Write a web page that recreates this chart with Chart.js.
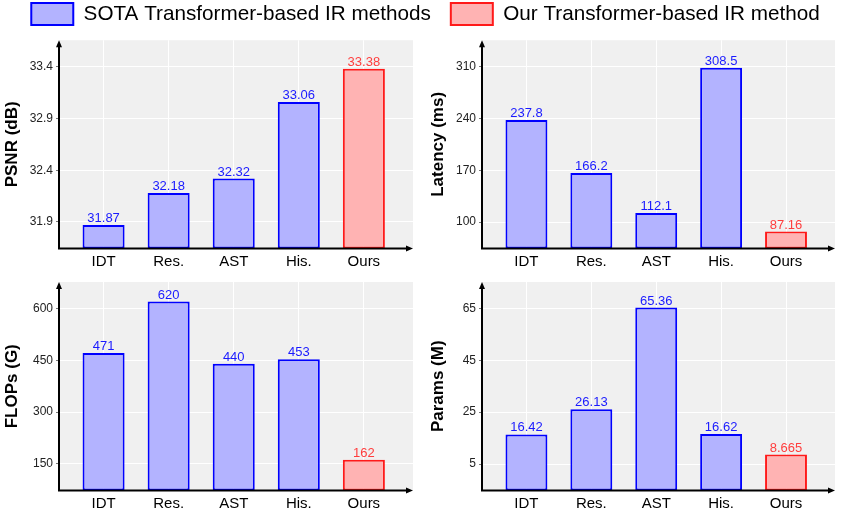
<!DOCTYPE html>
<html>
<head>
<meta charset="utf-8">
<script src="https://cdn.jsdelivr.net/npm/chart.js@4.4.1/dist/chart.umd.min.js"></script>
<style>
  body { margin: 0; background: #fff; }
  #wrap { position: relative; width: 841px; height: 516px; overflow: hidden; }
  canvas { position: absolute; }
</style>
</head>
<body>
<div id="wrap">
  <canvas id="legend" style="left:0;top:-17px" width="841" height="140"></canvas>
  <canvas id="psnrChart" style="left:0;top:30px" width="420" height="240"></canvas>
  <canvas id="latencyChart" style="left:420px;top:30px" width="421" height="240"></canvas>
  <canvas id="flopsChart" style="left:0;top:270px" width="420" height="246"></canvas>
  <canvas id="paramsChart" style="left:420px;top:270px" width="421" height="246"></canvas>
</div>
<script>
// values
const methods = ['IDT', 'Res.', 'AST', 'His.', 'Ours'];
const psnr = [31.87, 32.18, 32.32, 33.06, 33.38];
const latency = [237.8, 166.2, 112.1, 308.5, 87.16];
const flops = [471, 620, 440, 453, 162];
const params = [16.42, 26.13, 65.36, 16.62, 8.665];

const psnrTicks = [31.9, 32.4, 32.9, 33.4];
const latencyTicks = [100, 170, 240, 310];
const flopsTicks = [150, 300, 450, 600];
const paramsTicks = [5, 25, 45, 65];

const psnrRange = [31.644, 33.656];
const latencyRange = [64.2, 345.8];
const flopsRange = [73.3, 676.7];
const paramsRange = [-5.2, 75.2];
const xRange = [-0.685, 4.755];

const legendLabels = ['SOTA Transformer-based IR methods', 'Our Transformer-based IR method'];

const FONT = "'Liberation Sans', Arial, sans-serif";
const blueFill = '#b3b3ff', blueLine = '#0000ff', blueText = '#1a1aff';
const redFill = '#ffb3b3', redLine = '#ff1a1a', redText = '#ff3d3d';

function isOurs(m) { return m === 'Ours'; }

// gray plot background
const plotBg = {
  id: 'plotBg',
  beforeDraw(chart) {
    const { ctx, chartArea: a } = chart;
    ctx.save();
    ctx.fillStyle = '#f0f0f0';
    ctx.fillRect(a.left, a.top, a.right - a.left, a.bottom - a.top);
    ctx.restore();
  }
};

// black axes with arrow heads
const arrows = {
  id: 'arrows',
  afterDatasetsDraw(chart) {
    const { ctx, chartArea: a } = chart;
    ctx.save();
    ctx.strokeStyle = '#000';
    ctx.fillStyle = '#000';
    ctx.lineWidth = 2;
    ctx.beginPath();
    ctx.moveTo(a.left, a.bottom);
    ctx.lineTo(a.left, a.top + 5);
    ctx.moveTo(a.left - 1, a.bottom);
    ctx.lineTo(a.right - 5, a.bottom);
    ctx.stroke();
    ctx.beginPath();
    ctx.moveTo(a.left, a.top);
    ctx.lineTo(a.left - 3, a.top + 7);
    ctx.lineTo(a.left + 3, a.top + 7);
    ctx.closePath();
    ctx.fill();
    ctx.beginPath();
    ctx.moveTo(a.right, a.bottom);
    ctx.lineTo(a.right - 7, a.bottom - 3);
    ctx.lineTo(a.right - 7, a.bottom + 3);
    ctx.closePath();
    ctx.fill();
    ctx.restore();
  }
};

// numbers above bars
const valueLabels = {
  id: 'valueLabels',
  afterDatasetsDraw(chart) {
    const { ctx } = chart;
    const meta = chart.getDatasetMeta(0);
    const ds = chart.data.datasets[0];
    ctx.save();
    ctx.font = '13px ' + FONT;
    ctx.textAlign = 'center';
    ctx.textBaseline = 'alphabetic';
    meta.data.forEach((bar, i) => {
      ctx.fillStyle = isOurs(methods[i]) ? redText : blueText;
      ctx.fillText(String(ds.data[i].y), bar.x, bar.y - 3);
    });
    ctx.restore();
  }
};

function makePanel(id, values, ticks, range, title, right, bottom) {
  new Chart(document.getElementById(id), {
    type: 'bar',
    data: {
      datasets: [{
        data: values.map((v, i) => ({ x: i, y: v })),
        backgroundColor: methods.map(m => isOurs(m) ? redFill : blueFill),
        borderColor: methods.map(m => isOurs(m) ? redLine : blueLine),
        borderWidth: 2,
        borderSkipped: false,
        base: range[0],
        barPercentage: 0.646,
        categoryPercentage: 1
      }]
    },
    options: {
      responsive: false,
      animation: false,
      devicePixelRatio: 1,
      layout: { padding: { top: bottom ? 12 : 10, right: right ? 6 : 7, left: 0, bottom: 0 } },
      plugins: { legend: { display: false }, tooltip: { enabled: false } },
      scales: {
        x: {
          type: 'linear',
          min: xRange[0],
          max: xRange[1],
          offset: false,
          grid: { color: '#ffffff', lineWidth: 1, drawTicks: false, offset: false },
          border: { display: false },
          afterBuildTicks: s => { s.ticks = methods.map((m, i) => ({ value: i })); },
          afterFit: s => { s.height = bottom ? 25.5 : 21.5; },
          ticks: {
            callback: v => methods[v],
            font: { size: 15, family: FONT },
            color: '#000',
            padding: 4,
            maxRotation: 0,
            autoSkip: false
          }
        },
        y: {
          min: range[0],
          max: range[1],
          grid: { color: '#ffffff', lineWidth: 1, tickColor: '#777', tickLength: 3 },
          border: { display: false },
          afterBuildTicks: s => { s.ticks = ticks.map(v => ({ value: v })); },
          afterFit: s => { s.width = right ? 62 : 59; },
          ticks: { font: { size: 12, family: FONT }, color: '#222', padding: 3 },
          title: {
            display: true,
            text: title,
            color: '#000',
            font: { size: 17, weight: 'bold', family: FONT },
            padding: { top: right ? 8 : 2, bottom: 0 }
          }
        }
      }
    },
    plugins: [plotBg, arrows, valueLabels]
  });
}

makePanel('psnrChart', psnr, psnrTicks, psnrRange, 'PSNR (dB)', false, false);
makePanel('latencyChart', latency, latencyTicks, latencyRange, 'Latency (ms)', true, false);
makePanel('flopsChart', flops, flopsTicks, flopsRange, 'FLOPs (G)', false, true);
makePanel('paramsChart', params, paramsTicks, paramsRange, 'Params (M)', true, true);

// shared legend on top
new Chart(document.getElementById('legend'), {
  type: 'bar',
  data: {
    labels: [],
    datasets: legendLabels.map((l, i) => ({
      label: l,
      data: [],
      backgroundColor: i ? redFill : blueFill,
      borderColor: i ? redLine : blueLine,
      borderWidth: 2
    }))
  },
  options: {
    responsive: false,
    animation: false,
    devicePixelRatio: 1,
    layout: { padding: { left: 10 } },
    scales: { x: { display: false }, y: { display: false } },
    plugins: {
      tooltip: { enabled: false },
      legend: {
        position: 'top',
        labels: { boxWidth: 42, boxHeight: 22, padding: 20, color: '#000', font: { size: 20.7, family: FONT } }
      }
    }
  }
});
</script>
</body>
</html>
